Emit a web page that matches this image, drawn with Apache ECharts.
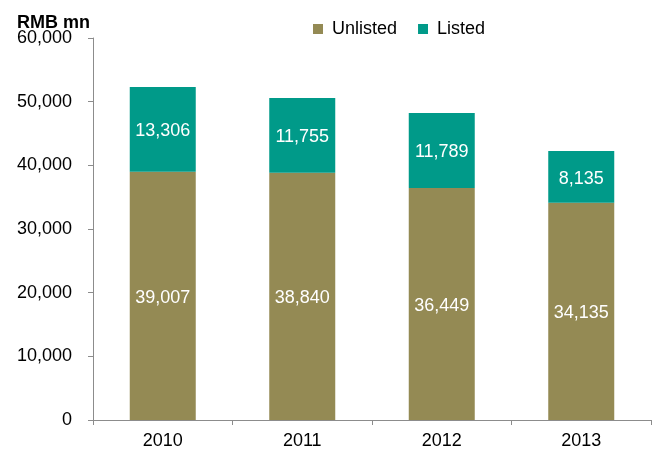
<!DOCTYPE html>
<html>
<head>
<meta charset="utf-8">
<script src="https://cdn.jsdelivr.net/npm/echarts@6/dist/echarts.min.js"></script>
<style>
  html, body { margin: 0; padding: 0; background: #fff; }
  #chart { width: 654px; height: 450px; }
</style>
</head>
<body>
<div id="chart"></div>
<script>
// Annual figures, RMB mn
const years = ['2010', '2011', '2012', '2013'];
const unlisted = [39007, 38840, 36449, 34135];
const listed = [13306, 11755, 11789, 8135];
const yTicks = { min: 0, max: 60000, step: 10000 };

const FONT = '"Liberation Sans", Arial, sans-serif';
const withCommas = v => String(Math.round(v)).replace(/\B(?=(\d{3})+(?!\d))/g, ',');

const chart = echarts.init(document.getElementById('chart'), null, { renderer: 'canvas' });

const barLabel = {
  show: true,
  position: 'inside',
  offset: [0, 2],
  color: '#ffffff',
  fontFamily: FONT,
  fontSize: 18,
  formatter: p => withCommas(p.value)
};

chart.setOption({
  animation: false,
  textStyle: { fontFamily: FONT },
  title: {
    text: 'RMB mn',
    left: 12,
    top: 9,
    textStyle: { fontFamily: FONT, fontSize: 18, fontWeight: 'bold', color: '#000' }
  },
  legend: {
    data: ['Unlisted', 'Listed'],
    left: 308,
    top: 15,
    icon: 'rect',
    itemWidth: 10,
    itemHeight: 10,
    itemGap: 21,
    textStyle: { fontFamily: FONT, fontSize: 18, color: '#000', padding: [0, 0, 0, 4] }
  },
  grid: { left: 93, right: 3, top: 38, bottom: 29, containLabel: false },
  xAxis: {
    type: 'category',
    data: years,
    axisLine: { lineStyle: { color: '#8c8c8c', width: 1 } },
    axisTick: { show: true, length: 5, lineStyle: { color: '#8c8c8c' } },
    axisLabel: { color: '#000', fontFamily: FONT, fontSize: 18, margin: 12 }
  },
  yAxis: {
    type: 'value',
    min: yTicks.min,
    max: yTicks.max,
    interval: yTicks.step,
    axisLine: { show: true, lineStyle: { color: '#8c8c8c', width: 1 } },
    axisTick: { show: true, length: 5, lineStyle: { color: '#8c8c8c' } },
    splitLine: { show: false },
    axisLabel: {
      color: '#000',
      fontFamily: FONT,
      fontSize: 18,
      margin: 21,
      formatter: v => withCommas(v)
    }
  },
  series: [
    {
      name: 'Unlisted',
      type: 'bar',
      stack: 'total',
      data: unlisted,
      barWidth: 66,
      itemStyle: { color: '#948a54' },
      label: barLabel
    },
    {
      name: 'Listed',
      type: 'bar',
      stack: 'total',
      data: listed,
      barWidth: 66,
      itemStyle: { color: '#009a89' },
      label: barLabel
    }
  ]
});
</script>
</body>
</html>
